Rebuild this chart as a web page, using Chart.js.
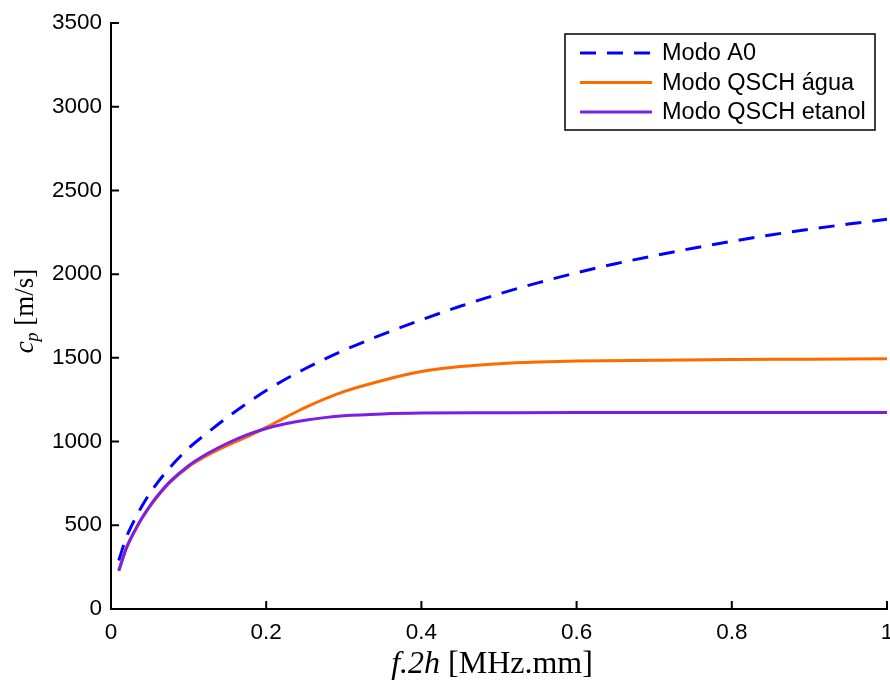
<!DOCTYPE html>
<html>
<head>
<meta charset="utf-8">
<script src="https://cdn.jsdelivr.net/npm/chart.js@4/dist/chart.umd.min.js"></script>
<style>
  html, body { margin: 0; padding: 0; background: #fff; overflow: hidden; }
  #wrap { width: 890px; height: 686px; }
  canvas { display: block; }
</style>
</head>
<body>
<div id="wrap"><canvas id="cpChart" width="890" height="686"></canvas></div>
<script>
// Dispersion curves: phase velocity c_p vs f.2h
const a0X = [0.01, 0.02, 0.03, 0.04, 0.05, 0.06, 0.075, 0.1, 0.125, 0.15, 0.175, 0.2, 0.25, 0.3, 0.35, 0.4, 0.45, 0.5, 0.55, 0.6, 0.65, 0.7, 0.75, 0.8, 0.85, 0.9, 0.95, 1.0];
const a0Y = [290, 430, 530, 615, 690, 755, 840, 960, 1055, 1145, 1228, 1305, 1435, 1545, 1640, 1727, 1808, 1882, 1948, 2008, 2062, 2110, 2155, 2196, 2234, 2268, 2299, 2328];

const aguaX = [0.01, 0.02, 0.03, 0.04, 0.05, 0.06, 0.075, 0.1, 0.125, 0.15, 0.175, 0.2, 0.225, 0.25, 0.3, 0.35, 0.4, 0.45, 0.5, 0.55, 0.6, 0.7, 0.8, 0.9, 1.0];
const aguaY = [229, 365, 460, 542, 612, 672, 752, 850, 920, 977, 1028, 1085, 1145, 1203, 1298, 1365, 1418, 1448, 1465, 1475, 1481, 1486, 1490, 1492, 1494];

const etanolX = [0.01, 0.02, 0.03, 0.04, 0.05, 0.06, 0.075, 0.1, 0.125, 0.15, 0.175, 0.2, 0.225, 0.25, 0.275, 0.3, 0.35, 0.4, 0.5, 0.6, 0.8, 1.0];
const etanolY = [229, 366, 462, 545, 615, 676, 756, 856, 930, 990, 1040, 1078, 1106, 1127, 1143, 1154, 1165, 1170, 1172, 1173, 1173, 1173];

const xTicks = [0, 0.2, 0.4, 0.6, 0.8, 1];
const yTicks = [0, 500, 1000, 1500, 2000, 2500, 3000, 3500];

const seriesLabels = ['Modo A0', 'Modo QSCH água', 'Modo QSCH etanol'];

const toPoints = (xs, ys) => xs.map((x, i) => ({ x: x, y: ys[i] }));

const SANS = '"Liberation Sans", Arial, sans-serif';
const SERIF = '"Liberation Serif", "Times New Roman", serif';

// inward tick marks, axis titles and the boxed legend
const decorPlugin = {
  id: 'decor',
  afterDraw(chart) {
    const ctx = chart.ctx;
    const xs = chart.scales.x;
    const ys = chart.scales.y;
    const area = chart.chartArea;
    ctx.save();
    ctx.strokeStyle = '#000';
    ctx.lineWidth = 2;
    ctx.beginPath();
    xTicks.forEach(v => {
      const px = xs.getPixelForValue(v);
      ctx.moveTo(px, area.bottom);
      ctx.lineTo(px, area.bottom - 8);
    });
    yTicks.forEach(v => {
      const py = ys.getPixelForValue(v);
      ctx.moveTo(area.left, py);
      ctx.lineTo(area.left + 8, py);
    });
    ctx.stroke();

    // x title: f.2h [MHz.mm]
    ctx.fillStyle = '#000';
    ctx.textBaseline = 'alphabetic';
    ctx.textAlign = 'left';
    let itFont = 'italic 32px ' + SERIF;
    let rmFont = '32px ' + SERIF;
    ctx.font = itFont;
    const w1 = ctx.measureText('f.2h').width;
    ctx.font = rmFont;
    const w2 = ctx.measureText(' [MHz.mm]').width;
    const sx = 492 - (w1 + w2) / 2;
    ctx.font = itFont;
    ctx.fillText('f.2h', sx, 673);
    ctx.font = rmFont;
    ctx.fillText(' [MHz.mm]', sx + w1, 673);

    // y title: c_p [m/s]
    itFont = 'italic 27px ' + SERIF;
    rmFont = '27px ' + SERIF;
    const subFont = 'italic 18px ' + SERIF;
    ctx.save();
    ctx.translate(33, 311);
    ctx.rotate(-Math.PI / 2);
    ctx.font = itFont;
    const wc = ctx.measureText('c').width;
    ctx.font = subFont;
    const wp = ctx.measureText('p').width;
    ctx.font = rmFont;
    const wu = ctx.measureText(' [m/s]').width;
    const tx = -(wc + wp + wu) / 2;
    ctx.font = itFont;
    ctx.fillText('c', tx, 0);
    ctx.font = subFont;
    ctx.fillText('p', tx + wc, 5);
    ctx.font = rmFont;
    ctx.fillText(' [m/s]', tx + wc + wp, 0);
    ctx.restore();

    // legend
    ctx.fillStyle = '#fff';
    ctx.fillRect(565, 34, 310, 96);
    ctx.strokeStyle = '#000';
    ctx.lineWidth = 1.5;
    ctx.strokeRect(565, 34, 310, 96);
    ctx.font = '23.5px ' + SANS;
    ctx.textBaseline = 'middle';
    chart.data.datasets.forEach((ds, i) => {
      const ly = 53 + i * 29.5;
      ctx.save();
      ctx.strokeStyle = ds.borderColor;
      ctx.lineWidth = ds.borderWidth;
      ctx.setLineDash(ds.borderDash || []);
      ctx.beginPath();
      ctx.moveTo(580, ly);
      ctx.lineTo(652, ly);
      ctx.stroke();
      ctx.restore();
      ctx.fillStyle = '#000';
      ctx.fillText(ds.label, 662, ly + 1);
    });
    ctx.restore();
  }
};

new Chart(document.getElementById('cpChart'), {
  type: 'line',
  data: {
    datasets: [
      {
        label: seriesLabels[0],
        data: toPoints(a0X, a0Y),
        borderColor: '#0000ff',
        borderWidth: 3,
        borderDash: [16, 11],
        order: 3
      },
      {
        label: seriesLabels[1],
        data: toPoints(aguaX, aguaY),
        borderColor: '#ff6a00',
        borderWidth: 3,
        order: 2
      },
      {
        label: seriesLabels[2],
        data: toPoints(etanolX, etanolY),
        borderColor: '#7b1fe6',
        borderWidth: 3,
        order: 1
      }
    ]
  },
  options: {
    responsive: false,
    animation: false,
    devicePixelRatio: 1,
    layout: { autoPadding: false, padding: { top: 23, right: 3, left: 0, bottom: 0 } },
    elements: {
      point: { radius: 0 },
      line: { cubicInterpolationMode: 'monotone', fill: false }
    },
    plugins: {
      legend: { display: false },
      tooltip: { enabled: false }
    },
    scales: {
      x: {
        type: 'linear',
        min: 0,
        max: 1,
        afterBuildTicks: s => { s.ticks = xTicks.map(v => ({ value: v })); },
        afterFit: s => {
          s.height = 77;
          s.paddingLeft = 0;
          s.paddingRight = 0;
        },
        grid: { display: false, drawTicks: false },
        border: { display: true, color: '#000', width: 2 },
        ticks: {
          color: '#000',
          padding: 10,
          maxRotation: 0,
          font: { family: SANS, size: 22.5 },
          callback: v => String(v)
        }
      },
      y: {
        type: 'linear',
        min: 0,
        max: 3500,
        afterBuildTicks: s => { s.ticks = yTicks.map(v => ({ value: v })); },
        afterFit: s => {
          s.width = 111;
          s.paddingTop = 0;
          s.paddingBottom = 0;
        },
        grid: { display: false, drawTicks: false },
        border: { display: true, color: '#000', width: 2 },
        ticks: {
          color: '#000',
          padding: 9,
          font: { family: SANS, size: 22.5 },
          callback: v => String(v)
        }
      }
    }
  },
  plugins: [decorPlugin]
});
</script>
</body>
</html>
